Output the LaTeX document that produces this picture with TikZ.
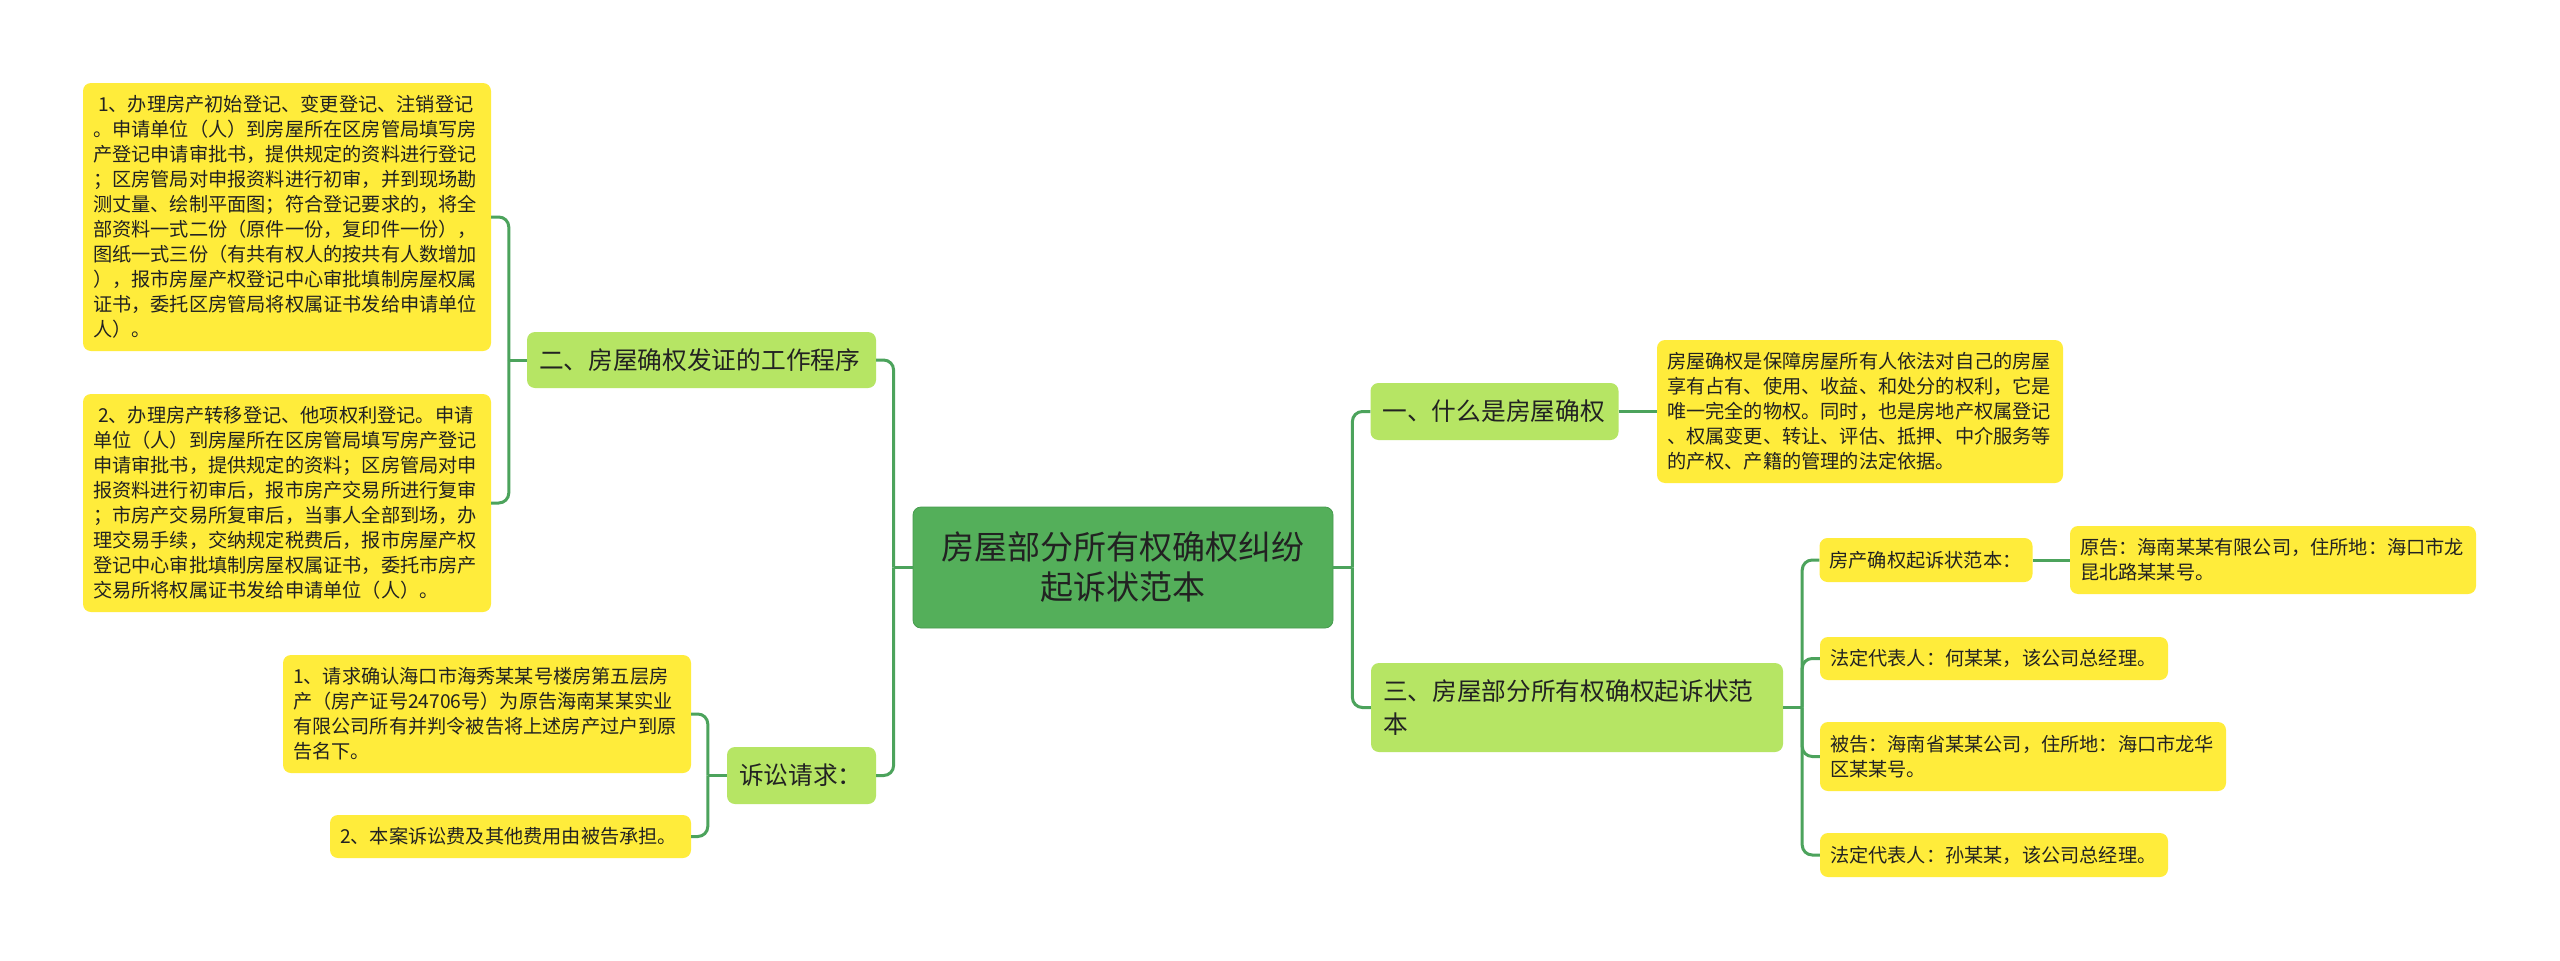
\documentclass[tikz,border=0pt]{standalone}
\usepackage{fontspec}
\newfontfamily\cjk{Noto Sans CJK SC}
\definecolor{rootg}{RGB}{84,175,90}
\definecolor{rootb}{RGB}{70,155,78}
\definecolor{branchg}{RGB}{182,229,100}
\definecolor{leafy}{RGB}{255,236,59}
\definecolor{lineg}{RGB}{76,163,92}
\definecolor{textc}{RGB}{34,34,34}
\tikzset{
  conn/.style={draw=lineg, line width=3pt, rounded corners=10pt},
  leaf/.style={fill=leafy, rounded corners=8pt, inner xsep=10pt, inner ysep=0pt, align=left, text=textc,
    font=\cjk\fontsize{19.2}{25}\selectfont},
  branch/.style={fill=branchg, rounded corners=8pt, inner xsep=12pt, inner ysep=0pt, align=left, text=textc,
    font=\cjk\fontsize{24.7}{33}\selectfont},
  rootbox/.style={fill=rootg, draw=rootb, line width=0.8pt, rounded corners=8pt, align=center, text=textc,
    font=\cjk\fontsize{33}{40}\selectfont},
}
\begin{document}
\begin{tikzpicture}[x=1pt,y=-1pt]
\useasboundingbox (0,0) rectangle (2560,961);
\fill[white] (0,0) rectangle (2560,961);

% root
\node[rootbox, minimum width=420pt, minimum height=121pt] (C) at (1123,567.5) {房屋部分所有权确权纠纷\\起诉状范本};

% left branches
\node[branch, text width=325pt, minimum height=56pt] (L1) at (701.5,360) {二、房屋确权发证的工作程序};
\node[branch, text width=125pt, minimum height=57pt] (S) at (801.5,775.5) {诉讼请求：};

% right branches
\node[branch, text width=224pt, minimum height=57pt] (R1) at (1494.5,411.5) {一、什么是房屋确权};
\node[branch, text width=388pt, minimum height=89pt] (R3) at (1577,707.5) {三、房屋部分所有权确权起诉状范\\本};

% left leaves
\node[leaf, text width=388pt, minimum height=268pt] (T1) at (287,217) {\hspace{5pt}1、办理房产初始登记、变更登记、注销登记\\
。申请单位（人）到房屋所在区房管局填写房\\
产登记申请审批书，提供规定的资料进行登记\\
；区房管局对申报资料进行初审，并到现场勘\\
测丈量、绘制平面图；符合登记要求的，将全\\
部资料一式二份（原件一份，复印件一份），\\
图纸一式三份（有共有权人的按共有人数增加\\
），报市房屋产权登记中心审批填制房屋权属\\
证书，委托区房管局将权属证书发给申请单位\\
人）。};
\node[leaf, text width=388pt, minimum height=218pt] (T2) at (287,503) {\hspace{5pt}2、办理房产转移登记、他项权利登记。申请\\
单位（人）到房屋所在区房管局填写房产登记\\
申请审批书，提供规定的资料；区房管局对申\\
报资料进行初审后，报市房产交易所进行复审\\
；市房产交易所复审后，当事人全部到场，办\\
理交易手续，交纳规定税费后，报市房屋产权\\
登记中心审批填制房屋权属证书，委托市房产\\
交易所将权属证书发给申请单位（人）。};
\node[leaf, text width=388pt, minimum height=118pt] (T3) at (487,714) {1、请求确认海口市海秀某某号楼房第五层房\\
产（房产证号24706号）为原告海南某某实业\\
有限公司所有并判令被告将上述房产过户到原\\
告名下。};
\node[leaf, text width=341pt, minimum height=43pt] (T4) at (510.5,836.5) {2、本案诉讼费及其他费用由被告承担。};

% right leaves
\node[leaf, text width=386pt, minimum height=143pt] (RT) at (1860,411.5) {房屋确权是保障房屋所有人依法对自己的房屋\\
享有占有、使用、收益、和处分的权利，它是\\
唯一完全的物权。同时，也是房地产权属登记\\
、权属变更、转让、评估、抵押、中介服务等\\
的产权、产籍的管理的法定依据。};
\node[leaf, text width=193pt, minimum height=44pt] (P1) at (1926,560) {房产确权起诉状范本：};
\node[leaf, text width=386pt, minimum height=68pt] (Q) at (2273,560) {原告：海南某某有限公司，住所地：海口市龙\\昆北路某某号。};
\node[leaf, text width=328pt, minimum height=43pt] (P2) at (1994,658.5) {法定代表人：何某某，该公司总经理。};
\node[leaf, text width=386pt, minimum height=69pt] (P3) at (2023,756.5) {被告：海南省某某公司，住所地：海口市龙华\\区某某号。};
\node[leaf, text width=328pt, minimum height=44pt] (P4) at (1994,855) {法定代表人：孙某某，该公司总经理。};

% junctions
\coordinate (jCL) at ([xshift=-19pt]C.west);
\coordinate (jCR) at ([xshift=19pt]C.east);
\coordinate (jL1) at ([xshift=-18pt]L1.west);
\coordinate (jS) at ([xshift=-19pt]S.west);
\coordinate (jR3) at ([xshift=19pt]R3.east);

% connectors
\draw[conn] (C.west) -- (jCL);
\draw[conn] (jCL) |- (L1.east);
\draw[conn] (jCL) |- (S.east);
\draw[conn] (C.east) -- (jCR);
\draw[conn] (jCR) |- (R1.west);
\draw[conn] (jCR) |- (R3.west);
\draw[conn] (L1.west) -- (jL1);
\draw[conn] (jL1) |- (T1.east);
\draw[conn] (jL1) |- (T2.east);
\draw[conn] (S.west) -- (jS);
\draw[conn] (jS) |- (T3.east);
\draw[conn] (jS) |- (T4.east);
\draw[conn] (R1.east) -- (RT.west);
\draw[conn] (R3.east) -- (jR3);
\draw[conn] (jR3) |- (P1.west);
\draw[conn] (jR3) |- (P2.west);
\draw[conn] (jR3) |- (P3.west);
\draw[conn] (jR3) |- (P4.west);
\draw[conn] (P1.east) -- (Q.west);
\end{tikzpicture}
\end{document}
